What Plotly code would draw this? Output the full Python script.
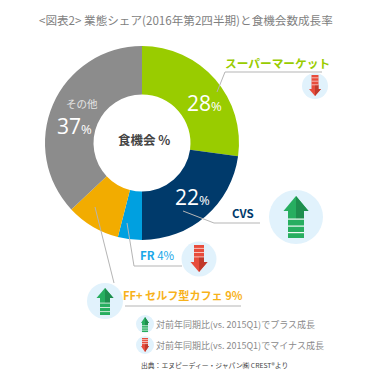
import plotly.graph_objects as go

W, H = 384, 380
FONT = "Noto Sans CJK JP"
NUM_FONT = "Open Sans"

# Data
categories = ["スーパーマーケット", "CVS", "FR", "FF+ セルフ型カフェ", "その他"]
drawn_shares = [27.2, 22.8, 4, 9, 37]   # slice sizes as measured on the ring
printed_shares = [28, 22, 4, 9, 37]     # numbers printed on the chart
slice_colors = ["#99CC00", "#003A6B", "#00A0E0", "#F2AC00", "#8C8C8C"]
title_text = "&lt;図表2&gt; 業態シェア(2016年第2四半期)と食機会数成長率"
center_text = "食機会 %"
legend_up = "対前年同期比(vs. 2015Q1)でプラス成長"
legend_down = "対前年同期比(vs. 2015Q1)でマイナス成長"
source_text = "出典：エヌピーディー・ジャパン㈱ CREST®より"

GREEN, GREEN_D = "#27AE60", "#1E8E4E"
RED, RED_D = "#E74C3C", "#C0392B"
CIRCLE = "#E1F2FC"
LINE = "#B5B5B5"

fig = go.Figure()
fig.add_trace(go.Pie(
    labels=categories, values=drawn_shares, sort=False, direction="clockwise",
    rotation=0, hole=0.5, textinfo="none", hoverinfo="label+value",
    marker=dict(colors=slice_colors, line=dict(width=0)),
    domain=dict(x=[45 / W, 239 / W], y=[1 - 240.5 / H, 1 - 45.5 / H]),
    showlegend=False,
))

shapes, annos = [], []


def P(x, y):
    return f"{x:.1f},{y:.1f}"


def add_shape(path, fill=None, line=None, lw=1):
    shapes.append(dict(
        type="path", path=path, xref="x", yref="y",
        fillcolor=fill or "rgba(0,0,0,0)",
        line=dict(color=line or "rgba(0,0,0,0)", width=lw if line else 0),
    ))


def polyline(pts, lw=1, color=LINE):
    add_shape("M" + " L".join(P(*p) for p in pts), line=color, lw=lw)


def badge(cx, cy, r, tip, head, tail, hw, sw, up):
    """Round badge; tip/head/tail are y positions of the arrow."""
    shapes.append(dict(type="circle", xref="x", yref="y", x0=cx - r, x1=cx + r,
                       y0=cy - r, y1=cy + r, fillcolor=CIRCLE, line=dict(width=0)))
    c, d = (GREEN, GREEN_D) if up else (RED, RED_D)
    add_shape(f"M{P(cx, tip)} L{P(cx + hw, head)} L{P(cx - hw, head)} Z", fill=c)
    add_shape(f"M{P(cx, tip)} L{P(cx + hw, head)} L{P(cx, head)} Z", fill=d)
    add_shape(f"M{P(cx - sw, head)} L{P(cx + sw, head)} L{P(cx + sw, tail)} L{P(cx - sw, tail)} Z", fill=c)
    add_shape(f"M{P(cx, head)} L{P(cx + sw, head)} L{P(cx + sw, head + (tail - head) * .3)} L{P(cx, head + (tail - head) * .3)} Z", fill=d)
    L = tail - head
    for f in (0.3, 0.56, 0.8):
        y = head + L * f
        polyline([(cx - sw, y), (cx + sw, y)], lw=max(0.7, r / 27 * 1.2), color="#F2FAF6" if up else "#FBE4E1")


# Leader lines
polyline([(322, 72), (225, 72), (217, 92)])
polyline([(260, 223), (214, 223), (183, 211)])
polyline([(182, 266), (134, 266), (127, 223)])
polyline([(241, 306), (125, 306)])
polyline([(114, 283), (95, 207)])

# Badges
badge(315, 86, 13, 96, 89, 75, 6, 3.5, False)
badge(296, 217, 27, 196, 211, 238, 12.5, 8, True)
badge(199, 259, 17.5, 272, 262, 245, 8.5, 5, False)
badge(105, 301, 18, 288, 298, 315, 8.5, 5, True)
badge(145, 324, 9, 317, 323, 332, 4, 3, True)
badge(145, 345, 9, 352, 346, 338, 4, 3, False)


def text(x, y, s, size, color, anchor="center", bold=False, family=FONT):
    annos.append(dict(
        xref="x", yref="y", x=x, y=y, text=f"<b>{s}</b>" if bold else s,
        showarrow=False, xanchor=anchor, yanchor="middle",
        font=dict(family=family, size=size, color=color),
    ))


def pct(v, small):
    return f'{v}<span style="font-size:{small}px">%</span>'


text(186, 20, title_text, 11.6, "#7F7F7F")
text(144, 139, center_text, 12.5, "#444444", bold=True)
text(204.5, 103, pct(printed_shares[0], 13), 21, "#FFFFFF", family=NUM_FONT)
text(192, 197, pct(printed_shares[1], 13), 21, "#FFFFFF", family=NUM_FONT)
text(74.5, 126, pct(printed_shares[4], 13), 21, "#FFFFFF", family=NUM_FONT)
text(82, 103, categories[4], 10.5, "#E4E4E4")
text(223, 62, categories[0], 11.7, slice_colors[0], anchor="left", bold=True)
text(230, 213, categories[1], 11.5, slice_colors[1], anchor="left", bold=True)
text(138, 255, f"<b>{categories[2]}</b> {printed_shares[2]}%", 11.5, "#1AA7E8", anchor="left")
text(121, 295, f"<b>{categories[3]} {printed_shares[3]}%</b>", 11.1, "#F7B21B", anchor="left")
text(154, 324, legend_up, 9, "#8A8A8A", anchor="left")
text(154, 345, legend_down, 9, "#8A8A8A", anchor="left")
text(139, 365, source_text, 6.8, "#444444", anchor="left")

fig.update_layout(
    width=W, height=H, autosize=False,
    margin=dict(l=0, r=0, t=0, b=0),
    paper_bgcolor="#FFFFFF", plot_bgcolor="rgba(0,0,0,0)",
    xaxis=dict(range=[0, W], visible=False, fixedrange=True),
    yaxis=dict(range=[H, 0], visible=False, fixedrange=True),
    shapes=shapes, annotations=annos, showlegend=False,
)
fig.write_html("out.html", config=dict(displayModeBar=False, responsive=False),
               post_script="document.body.style.margin='0';document.documentElement.style.overflow='hidden';")
